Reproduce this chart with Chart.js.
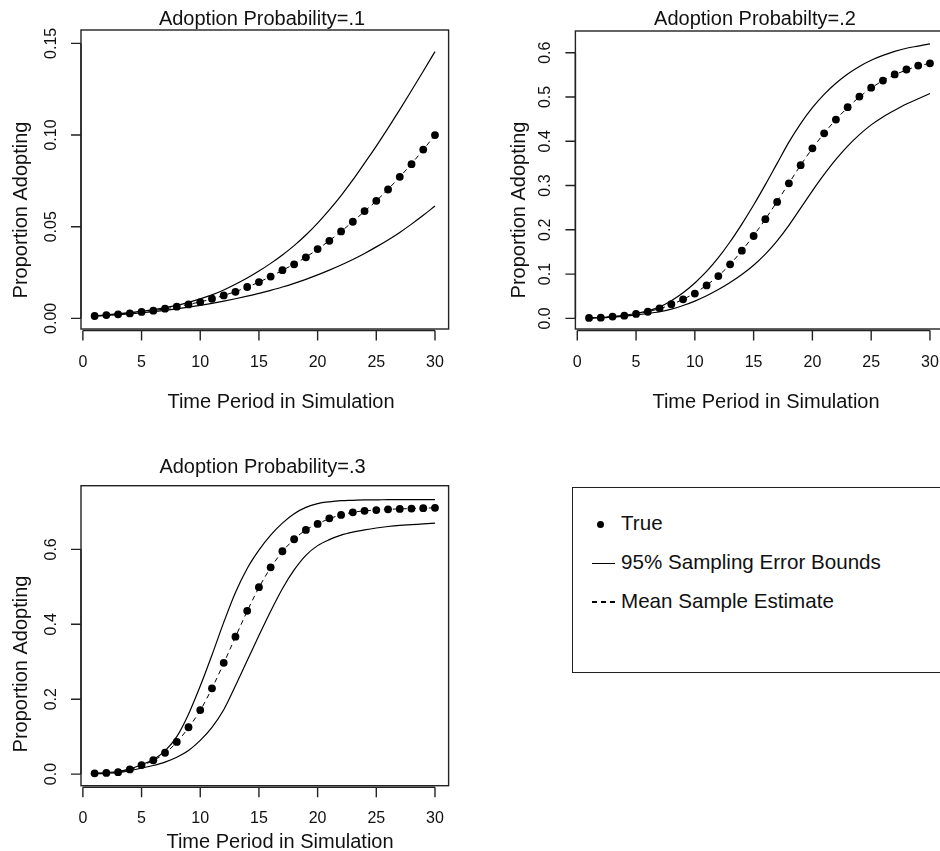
<!DOCTYPE html>
<html>
<head>
<meta charset="utf-8">
<script src="https://cdn.jsdelivr.net/npm/chart.js@4.4.0/dist/chart.umd.min.js"></script>
<style>
  html, body { margin: 0; padding: 0; background: #fff; overflow: hidden; }
  body { width: 940px; height: 851px; position: relative; font-family: "Liberation Sans", Arial, Helvetica, sans-serif; color: #111; }
  .panel { position: absolute; }
  #legendBox { position: absolute; left: 572px; top: 487px; width: 400px; height: 186px; border: 1.5px solid #222; box-sizing: border-box; }
  .lg-text { position: absolute; font-size: 20.6px; line-height: 20px; white-space: nowrap; }
  .lg-dot { position: absolute; width: 7px; height: 7px; border-radius: 50%; background: #000; }
  .lg-solid { position: absolute; width: 23px; height: 0; border-top: 1.3px solid #000; }
  .lg-dash { position: absolute; width: 24px; height: 1.6px; background: repeating-linear-gradient(to right, #000 0 5.5px, transparent 5.5px 9px); }
</style>
</head>
<body>
<div class="panel" style="left:0;top:0"><canvas id="p1" width="470" height="420"></canvas></div>
<div class="panel" style="left:470px;top:0"><canvas id="p2" width="480" height="420"></canvas></div>
<div class="panel" style="left:0;top:420px"><canvas id="p3" width="470" height="431"></canvas></div>

<div class="lg-dot" style="left:596.5px;top:520.5px"></div>
<div class="lg-text" id="lgTrue" style="left:621px;top:513px"></div>
<div class="lg-solid" style="left:592px;top:563px"></div>
<div class="lg-text" id="lgBounds" style="left:621px;top:552px"></div>
<div class="lg-dash" style="left:592px;top:601px"></div>
<div class="lg-text" id="lgMean" style="left:621px;top:591px"></div>
<div id="legendBox"></div>

<script>
// time periods of the simulation
const periods = [1,2,3,4,5,6,7,8,9,10,11,12,13,14,15,16,17,18,19,20,21,22,23,24,25,26,27,28,29,30];
const xTickValues = [0, 5, 10, 15, 20, 25, 30];

const seriesNames = ['True', '95% Sampling Error Bounds', 'Mean Sample Estimate'];
const panelTitles = ['Adoption Probability=.1', 'Adoption Probabilty=.2', 'Adoption Probability=.3'];
const xTitle = 'Time Period in Simulation';
const yTitle = 'Proportion Adopting';

// adoption probability = .1
const true1  = [.0013,.0018,.0022,.0027,.0035,.0042,.0053,.0064,.0076,.0089,.0107,.0125,.0145,.0171,.0198,.0228,.0263,.0295,.0333,.0378,.0423,.0474,.0527,.0585,.0641,.0703,.0772,.0841,.0921,.1000];
const mean1  = [.0013,.0017,.0022,.0028,.0034,.0042,.0052,.0063,.0076,.0090,.0106,.0125,.0146,.0170,.0198,.0228,.0262,.0296,.0334,.0377,.0424,.0474,.0528,.0584,.0641,.0704,.0772,.0843,.0920,.1000];
const upper1 = [.0014,.0019,.0025,.0031,.0039,.0048,.0059,.0071,.0087,.0106,.0128,.0155,.0186,.0220,.0258,.0300,.0346,.0397,.0455,.0520,.0592,.0670,.0755,.0847,.0940,.1038,.1139,.1243,.1348,.1455];
const lower1 = [.0012,.0016,.0020,.0025,.0031,.0037,.0044,.0052,.0061,.0071,.0082,.0094,.0107,.0121,.0136,.0153,.0171,.0191,.0213,.0237,.0263,.0291,.0321,.0354,.0390,.0428,.0469,.0514,.0562,.0613];
const yTicks1 = [0, 0.05, 0.10, 0.15];
const yLabels1 = ['0.00', '0.05', '0.10', '0.15'];

// adoption probability = .2
const true2  = [.001,.0015,.004,.006,.010,.015,.0226,.032,.043,.056,.0745,.0955,.122,.153,.186,.224,.263,.305,.346,.384,.418,.449,.477,.501,.521,.537,.551,.562,.571,.576];
const mean2  = [.001,.0015,.004,.006,.010,.015,.022,.031,.043,.057,.075,.096,.122,.153,.187,.224,.264,.305,.346,.384,.418,.449,.476,.500,.520,.537,.550,.561,.570,.576];
const upper2 = [.001,.002,.004,.007,.011,.017,.026,.040,.058,.080,.106,.137,.173,.213,.256,.302,.350,.398,.440,.476,.506,.531,.552,.569,.583,.594,.603,.610,.615,.620];
const lower2 = [.001,.0015,.003,.005,.008,.011,.015,.021,.029,.039,.051,.065,.081,.099,.120,.145,.175,.210,.249,.288,.325,.359,.389,.415,.437,.455,.470,.484,.496,.508];
const yTicks2 = [0, 0.1, 0.2, 0.3, 0.4, 0.5, 0.6];
const yLabels2 = ['0.0', '0.1', '0.2', '0.3', '0.4', '0.5', '0.6'];

// adoption probability = .3
const true3  = [.002,.003,.005,.0125,.024,.037,.057,.086,.125,.171,.229,.297,.367,.436,.499,.552,.595,.627,.652,.668,.683,.692,.699,.703,.705,.707,.708,.709,.710,.711];
const mean3  = [.002,.003,.005,.012,.023,.036,.056,.085,.124,.170,.229,.296,.366,.435,.498,.551,.594,.627,.652,.668,.682,.692,.699,.703,.705,.707,.708,.709,.710,.711];
const upper3 = [.002,.004,.007,.014,.025,.039,.062,.100,.160,.235,.318,.405,.485,.549,.598,.638,.670,.695,.712,.722,.727,.730,.731,.732,.732,.733,.733,.733,.733,.733];
const lower3 = [.001,.002,.004,.009,.016,.023,.032,.045,.063,.090,.125,.172,.236,.303,.370,.435,.495,.545,.584,.610,.626,.638,.646,.652,.657,.661,.664,.666,.668,.670];
const yTicks3 = [0, 0.2, 0.4, 0.6];
const yLabels3 = ['0.0', '0.2', '0.4', '0.6'];

const FONT = '"Liberation Sans", Arial, Helvetica, sans-serif';

function pts(values) {
    return periods.map((t, i) => ({ x: t, y: values[i] }));
}

// R style frame: box, axis with outward ticks, rotated y labels
const rFrame = {
    id: 'rFrame',
    afterDraw(chart, args, o) {
        const ctx = chart.ctx;
        const a = chart.chartArea;
        const x = chart.scales.x;
        const y = chart.scales.y;
        ctx.save();
        ctx.strokeStyle = '#222';
        ctx.lineWidth = 1.4;
        ctx.strokeRect(a.left, a.top, a.right - a.left, a.bottom - a.top);

        // x axis
        const ay = a.bottom + 1.5;
        ctx.beginPath();
        ctx.moveTo(x.getPixelForValue(o.xTicks[0]), ay);
        ctx.lineTo(x.getPixelForValue(o.xTicks[o.xTicks.length - 1]), ay);
        o.xTicks.forEach(v => {
            const px = x.getPixelForValue(v);
            ctx.moveTo(px, ay);
            ctx.lineTo(px, ay + 10);
        });
        // y axis
        ctx.moveTo(a.left, y.getPixelForValue(o.yTicks[0]));
        ctx.lineTo(a.left, y.getPixelForValue(o.yTicks[o.yTicks.length - 1]));
        o.yTicks.forEach(v => {
            const py = y.getPixelForValue(v);
            ctx.moveTo(a.left, py);
            ctx.lineTo(a.left - 10, py);
        });
        ctx.stroke();

        ctx.fillStyle = '#111';
        ctx.textAlign = 'center';
        ctx.textBaseline = 'alphabetic';
        ctx.font = '16px ' + FONT;
        o.xTicks.forEach(v => {
            ctx.fillText(String(v), x.getPixelForValue(v), a.bottom + o.tickGap);
        });
        o.yTicks.forEach((v, i) => {
            ctx.save();
            ctx.translate(a.left - 25, y.getPixelForValue(v));
            ctx.rotate(-Math.PI / 2);
            ctx.fillText(o.yLabels[i], 0, 0);
            ctx.restore();
        });

        ctx.font = '20px ' + FONT;
        ctx.fillText(o.title, o.titlePos[0], o.titlePos[1]);
        ctx.fillText(xTitle, o.xTitlePos[0], o.xTitlePos[1]);
        ctx.save();
        ctx.translate(o.yTitlePos[0], o.yTitlePos[1]);
        ctx.rotate(-Math.PI / 2);
        ctx.fillText(yTitle, 0, 0);
        ctx.restore();
        ctx.restore();
    }
};

function makePanel(id, vals, frame, yRange, pad) {
    new Chart(document.getElementById(id), {
        type: 'line',
        data: {
            datasets: [
                {
                    label: seriesNames[0],
                    data: pts(vals.truth),
                    showLine: false,
                    pointRadius: 3.9,
                    pointBackgroundColor: '#000',
                    pointBorderWidth: 0
                },
                {
                    label: seriesNames[2],
                    data: pts(vals.mean),
                    borderColor: '#000',
                    borderWidth: 1,
                    borderDash: [5, 4],
                    pointRadius: 0,
                    cubicInterpolationMode: 'monotone'
                },
                {
                    label: seriesNames[1],
                    data: pts(vals.upper),
                    borderColor: '#000',
                    borderWidth: 1.2,
                    pointRadius: 0,
                    cubicInterpolationMode: 'monotone'
                },
                {
                    label: seriesNames[1],
                    data: pts(vals.lower),
                    borderColor: '#000',
                    borderWidth: 1.2,
                    pointRadius: 0,
                    cubicInterpolationMode: 'monotone'
                }
            ]
        },
        options: {
            responsive: false,
            animation: false,
            events: [],
            layout: { padding: pad },
            scales: {
                x: { type: 'linear', min: -0.16, max: 31.16, display: false },
                y: { type: 'linear', min: yRange[0], max: yRange[1], display: false }
            },
            plugins: {
                legend: { display: false },
                title: { display: false },
                tooltip: { enabled: false },
                rFrame: frame
            }
        },
        plugins: [rFrame]
    });
}

makePanel('p1',
    { truth: true1, mean: mean1, upper: upper1, lower: lower1 },
    { xTicks: xTickValues, yTicks: yTicks1, yLabels: yLabels1, title: panelTitles[0],
      tickGap: 38, titlePos: [262, 25], xTitlePos: [281, 408], yTitlePos: [27, 210] },
    [-0.0058, 0.1573],
    { left: 81, top: 30, right: 21.4, bottom: 91 });

makePanel('p2',
    { truth: true2, mean: mean2, upper: upper2, lower: lower2 },
    { xTicks: xTickValues, yTicks: yTicks2, yLabels: yLabels2, title: panelTitles[1],
      tickGap: 38, titlePos: [285, 25], xTitlePos: [296, 408], yTitlePos: [54.5, 210] },
    [-0.024, 0.649],
    { left: 105.4, top: 31, right: 6.4, bottom: 91 });

makePanel('p3',
    { truth: true3, mean: mean3, upper: upper3, lower: lower3 },
    { xTicks: xTickValues, yTicks: yTicks3, yLabels: yLabels3, title: panelTitles[2],
      tickGap: 37, titlePos: [262.5, 52.7], xTitlePos: [280, 428], yTitlePos: [27, 244] },
    [-0.031, 0.770],
    { left: 81, top: 65.7, right: 21.4, bottom: 65.3 });

document.getElementById('lgTrue').textContent = seriesNames[0];
document.getElementById('lgBounds').textContent = seriesNames[1];
document.getElementById('lgMean').textContent = seriesNames[2];
</script>
</body>
</html>
